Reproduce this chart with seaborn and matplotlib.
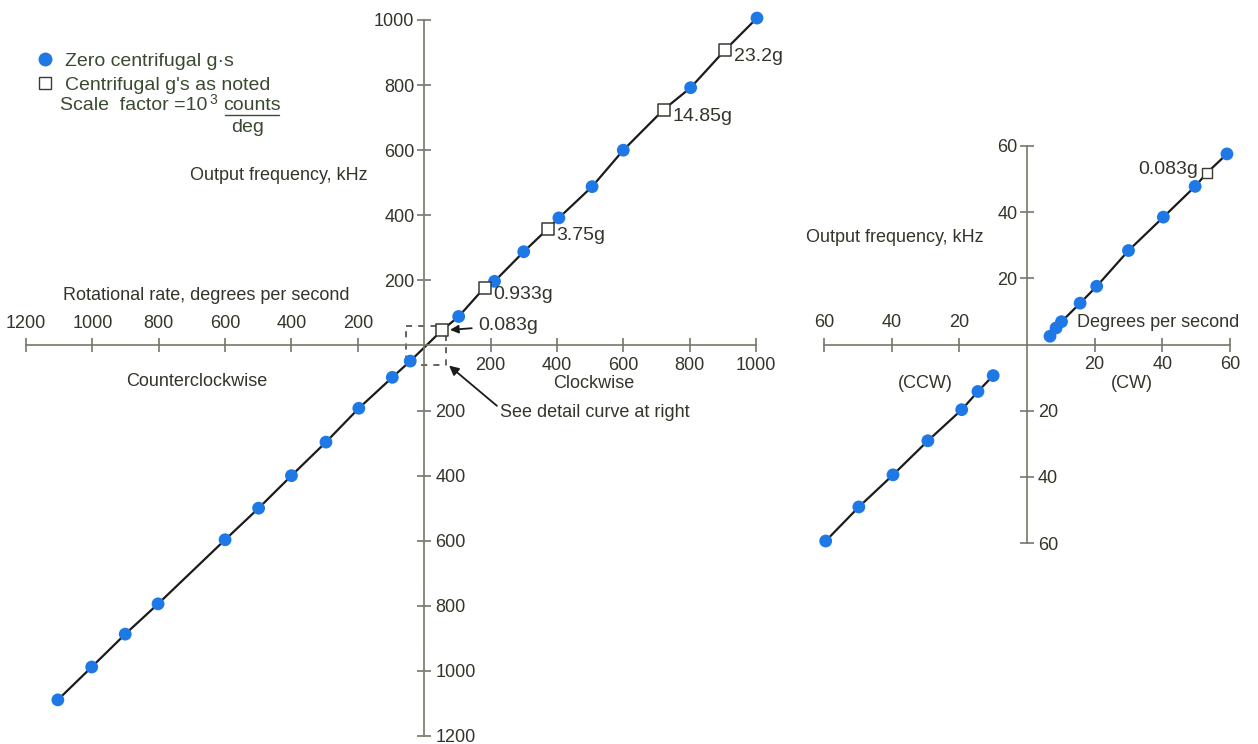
import pandas as pd
import matplotlib
matplotlib.use("Agg")
import matplotlib.pyplot as plt
from matplotlib.ticker import FixedLocator, FixedFormatter
from matplotlib.lines import Line2D
import seaborn as sns

# ---------------- data (rotational rate in deg/s, output frequency in kHz)
zero_g_rate = [-1104, -1002, -901, -802, -600, -499, -400, -296, -197, -96, -42,
               104, 212, 300, 406, 506, 600, 803, 1003]
zero_g_freq = [-1089, -988, -887, -794, -597, -500, -400, -297, -193, -98, -48,
               89, 197, 288, 392, 488, 600, 792, 1006]
noted_g_rate = [53, 182, 372, 722, 907]
noted_g_freq = [46, 178, 358, 725, 908]
noted_g_labels = ["0.083g", "0.933g", "3.75g", "14.85g", "23.2g"]

detail_cw_rate = [6.8, 8.6, 10.2, 15.7, 20.6, 30.0, 40.3, 49.7, 59.1]
detail_cw_freq = [2.5, 5.0, 6.9, 12.5, 17.6, 28.4, 38.5, 47.8, 57.6]
detail_ccw_rate = [-10.0, -14.5, -19.3, -29.3, -39.6, -49.7, -59.5]
detail_ccw_freq = [-9.4, -14.2, -19.7, -29.1, -39.4, -49.1, -59.4]
detail_noted_rate = [53.2]
detail_noted_freq = [51.9]
detail_noted_labels = ["0.083g"]

main_pos_ticks = [200, 400, 600, 800, 1000]
main_pos_labels = ["200", "400", "600", "800", "1000"]
main_neg_ticks = [-1200, -1000, -800, -600, -400, -200]
main_neg_labels = ["1200", "1000", "800", "600", "400", "200"]
detail_pos_ticks = [20, 40, 60]
detail_pos_labels = ["20", "40", "60"]
detail_neg_ticks = [-60, -40, -20]
detail_neg_labels = ["60", "40", "20"]
detail_box = [-55, 66, 66, -55, -55]
detail_box_y = [60, 60, -60, -60, 60]

# ---------------- style
sns.set_theme(style="white")
plt.rcParams["font.family"] = ["Liberation Sans", "DejaVu Sans"]
TXT = "#34352a"
LEG = "#3a4a30"
AX = "#77786a"
BLUE = "#1e78e6"
FS = 13
LFS = 14

W, H = 1258, 744
fig = plt.figure(figsize=(W / 100, H / 100), dpi=100)


def fpos(x, y):
    return x / W, 1 - y / H


def add_axes(left, top, right, bottom):
    return fig.add_axes([left / W, 1 - bottom / H, (right - left) / W, (bottom - top) / H])


def cross_axes(ax, lim, pos_t, pos_l, neg_t, neg_l):
    ax.set_xlim(*lim[0])
    ax.set_ylim(*lim[1])
    ax.set_facecolor("none")
    for s in ["left", "right", "bottom", "top"]:
        ax.spines[s].set_position(("data", 0))
        ax.spines[s].set_color(AX)
        ax.spines[s].set_linewidth(1.2)
    ax.spines["right"].set_visible(False)
    ax.spines["top"].set_visible(False)
    for axis in (ax.xaxis, ax.yaxis):
        axis.set_major_locator(FixedLocator(pos_t))
        axis.set_major_formatter(FixedFormatter(pos_l))
        axis.set_minor_locator(FixedLocator(neg_t))
        axis.set_minor_formatter(FixedFormatter(neg_l))
    common = dict(direction="inout", length=10, width=1.2, color=AX,
                  labelcolor=TXT, labelsize=FS)
    ax.tick_params(axis="x", which="major", bottom=True, top=False,
                   labelbottom=True, labeltop=False, pad=3, **common)
    ax.tick_params(axis="x", which="minor", bottom=False, top=True,
                   labelbottom=False, labeltop=True, pad=5, **common)
    ax.tick_params(axis="y", which="major", left=True, right=False,
                   labelleft=True, labelright=False, pad=2, **common)
    ax.tick_params(axis="y", which="minor", left=False, right=True,
                   labelleft=False, labelright=True, pad=3, **common)
    ax.set_xlabel("")
    ax.set_ylabel("")


# ---------------- main chart
ax = add_axes(26, 20, 756, 736)
zero_df = pd.DataFrame({"rate": zero_g_rate, "freq": zero_g_freq})
noted_df = pd.DataFrame({"rate": noted_g_rate, "freq": noted_g_freq, "label": noted_g_labels})
line_df = pd.concat([zero_df, noted_df[["rate", "freq"]]]).sort_values("rate")

sns.lineplot(data=line_df, x="rate", y="freq", sort=True, estimator=None,
             color="#1b1b1b", linewidth=1.6, ax=ax, zorder=2)
sns.scatterplot(data=zero_df, x="rate", y="freq", color=BLUE, s=85,
                edgecolor="none", ax=ax, zorder=3, clip_on=False)
sns.scatterplot(data=noted_df, x="rate", y="freq", marker="s", color="white",
                s=75, edgecolor="#3a3a30", linewidth=1.1, ax=ax, zorder=4, clip_on=False)
ax.plot(detail_box, detail_box_y, color="#3a3a30", lw=1.1, ls=(0, (4, 4)), zorder=1)
cross_axes(ax, [(-1200, 1000), (-1200, 1000)], main_pos_ticks, main_pos_labels,
           main_neg_ticks, main_neg_labels)

for r, f, lab in zip(noted_g_rate, noted_g_freq, noted_g_labels):
    if lab == "0.083g":
        ax.annotate(lab, xy=(r, f), xytext=(36, 5), textcoords="offset pixels",
                    ha="left", va="center", fontsize=FS + 1, color=TXT,
                    arrowprops=dict(arrowstyle="-|>", color="#1b1b1b", lw=1.3,
                                    shrinkA=2, shrinkB=6, mutation_scale=12))
    else:
        ax.annotate(lab, xy=(r, f), xytext=(9, -7), textcoords="offset pixels",
                    ha="left", va="center", fontsize=FS + 1, color=TXT)

ax.annotate("See detail curve at right", xy=(75, -62), xytext=(229, -207),
            textcoords="data", ha="left", va="center", fontsize=FS, color=TXT,
            arrowprops=dict(arrowstyle="-|>", color="#1b1b1b", lw=1.3, shrinkA=0,
                            shrinkB=0, mutation_scale=14, relpos=(0, 0.75)))

# ---------------- detail chart
ax2 = add_axes(824, 146, 1230, 543)
cw_df = pd.DataFrame({"rate": detail_cw_rate, "freq": detail_cw_freq})
ccw_df = pd.DataFrame({"rate": detail_ccw_rate, "freq": detail_ccw_freq})
dn_df = pd.DataFrame({"rate": detail_noted_rate, "freq": detail_noted_freq})
cw_line = pd.concat([cw_df, dn_df]).sort_values("rate")
sns.lineplot(data=cw_line, x="rate", y="freq", sort=True, estimator=None,
             color="#1b1b1b", linewidth=1.6, ax=ax2, zorder=2)
sns.lineplot(data=ccw_df, x="rate", y="freq", sort=True, estimator=None,
             color="#1b1b1b", linewidth=1.6, ax=ax2, zorder=2)
sns.scatterplot(data=pd.concat([cw_df, ccw_df]), x="rate", y="freq", color=BLUE,
                s=85, edgecolor="none", ax=ax2, zorder=3, clip_on=False)
sns.scatterplot(data=dn_df, x="rate", y="freq", marker="s", color="white", s=60,
                edgecolor="#3a3a30", linewidth=1.0, ax=ax2, zorder=4, clip_on=False)
cross_axes(ax2, [(-60, 60), (-60, 60)], detail_pos_ticks, detail_pos_labels,
           detail_neg_ticks, detail_neg_labels)
for r, f, lab in zip(detail_noted_rate, detail_noted_freq, detail_noted_labels):
    ax2.annotate(lab, xy=(r, f), xytext=(-9, 3), textcoords="offset pixels",
                 ha="right", va="center", fontsize=FS + 1, color=TXT)

# ---------------- free texts
texts = [
    ("Output frequency, kHz", 190, 176),
    ("Rotational rate, degrees per second", 63, 296),
    ("Counterclockwise", 126, 381),
    ("Clockwise", 553, 383),
    ("Output frequency, kHz", 806, 237),
    ("Degrees per second", 1077, 323),
    ("(CCW)", 898, 383),
    ("(CW)", 1111, 383),
]
for t, x, y in texts:
    fig.text(*fpos(x, y), t, ha="left", va="center", fontsize=FS, color=TXT)

# legend
handles = [Line2D([], [], marker="o", ls="", color=BLUE, markersize=9),
           Line2D([], [], marker="s", ls="", markerfacecolor="white",
                  markeredgecolor="#3a3a30", markersize=8)]
fig.legend(handles, ["Zero centrifugal g·s", "Centrifugal g's as noted"],
           loc="upper left", bbox_to_anchor=fpos(35, 52), frameon=False,
           fontsize=LFS, handlelength=1.0, handletextpad=0.55, labelspacing=0.35,
           borderaxespad=0, borderpad=0, labelcolor=LEG)
fig.text(*fpos(60, 106), "Scale  factor =10", ha="left", va="center",
         fontsize=LFS, color=LEG)
fig.text(*fpos(209, 100), "3", ha="left", va="center", fontsize=10, color=LEG)
fig.text(*fpos(252, 105), "counts", ha="center", va="center", fontsize=LFS, color=LEG)
fig.text(*fpos(248, 127), "deg", ha="center", va="center", fontsize=LFS, color=LEG)
fig.add_artist(Line2D([225 / W, 279 / W], [1 - 115 / H, 1 - 115 / H],
                      transform=fig.transFigure, color=LEG, lw=1.0))

fig.savefig("out.png", dpi=100)
